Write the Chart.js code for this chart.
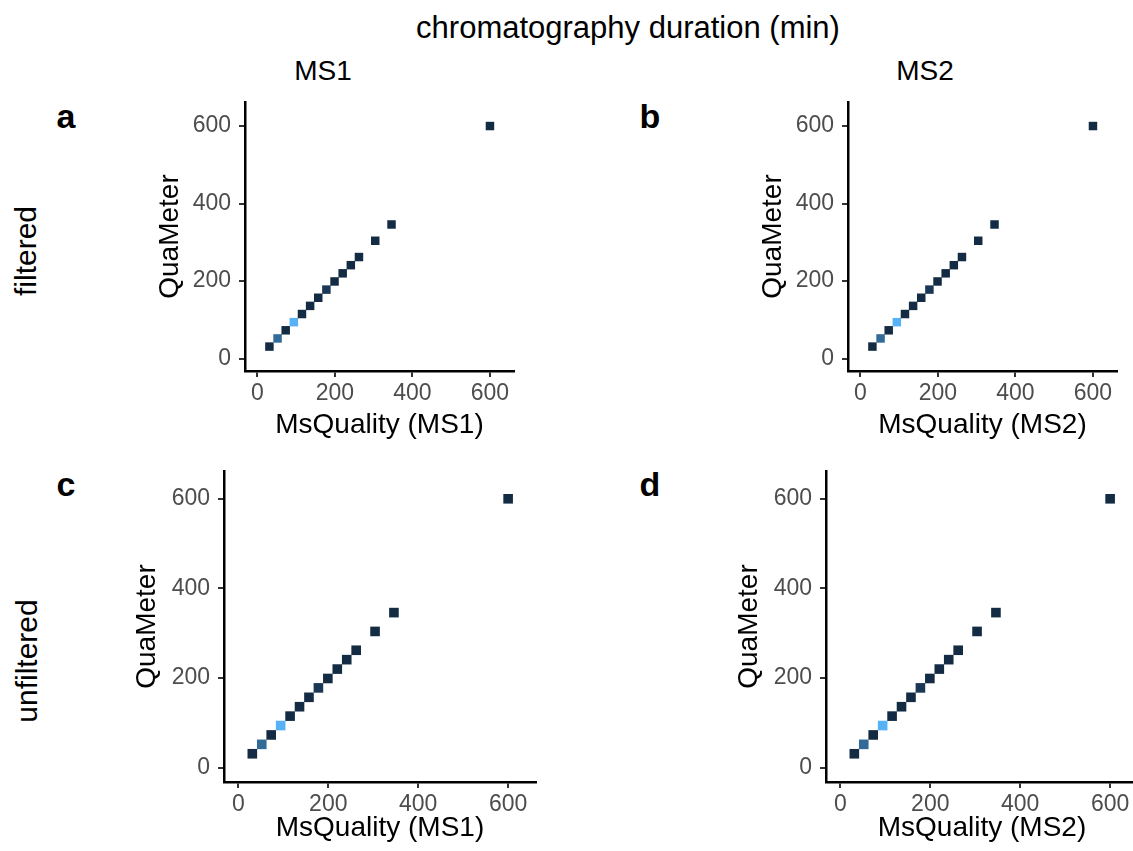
<!DOCTYPE html>
<html>
<head>
<meta charset="utf-8">
<script src="https://cdn.jsdelivr.net/npm/chart.js@4/dist/chart.umd.min.js"></script>
<style>
html, body { margin: 0; padding: 0; background: #fff; overflow: hidden; }
#page { position: relative; width: 1133px; height: 851px; font-family: "Liberation Sans", Arial, sans-serif; }
.txt { position: absolute; white-space: nowrap; color: #000; transform: translate(-50%, -50%); font-size: 28px; }
.rot { transform: translate(-50%, -50%) rotate(-90deg); font-size: 30px; }
.tag { font-weight: bold; font-size: 34px; }
canvas { position: absolute; }
</style>
</head>
<body>
<div id="page">
	<div class="txt" style="left:628px;top:28px;font-size:31px">chromatography duration (min)</div>
	<div class="txt" style="left:323px;top:71px">MS1</div>
	<div class="txt" style="left:925px;top:71px">MS2</div>
	<div class="txt rot" style="left:26px;top:251px">filtered</div>
	<div class="txt rot" style="left:27px;top:661px">unfiltered</div>
	<div class="txt tag" style="left:66px;top:116px">a</div>
	<div class="txt tag" style="left:650px;top:116px">b</div>
	<div class="txt tag" style="left:66px;top:484px">c</div>
	<div class="txt tag" style="left:650px;top:484px">d</div>
	<canvas id="pa"></canvas>
	<canvas id="pb"></canvas>
	<canvas id="pc"></canvas>
	<canvas id="pd"></canvas>
</div>
<script>
'use strict';

// chromatography duration (min), same runs in every panel
var msQuality = [31, 52, 73, 94, 115, 136, 157, 178, 199, 220, 241, 262, 304, 346, 600];
var quaMeter = [31, 52, 73, 94, 115, 136, 157, 178, 199, 220, 241, 262, 304, 346, 600];
// colour scale level of each point (0 = dark navy, 1 = light blue)
var fillLevel = [0, 0.47, 0, 1, 0, 0, 0, 0.1, 0, 0, 0, 0, 0, 0, 0];
var tickValues = [0, 200, 400, 600];

function shade(t) {
	var lo = [19, 43, 67], hi = [86, 177, 247];
	return 'rgb(' + lo.map(function (v, i) { return Math.round(v + (hi[i] - v) * t); }).join(',') + ')';
}

var panels = [
	{ id: 'pa', L: 245, T: 102, R: 514, B: 371, yw: 92, xh: 71, xTitle: 'MsQuality (MS1)', r: 6 },
	{ id: 'pb', L: 848, T: 102, R: 1117, B: 371, yw: 92, xh: 71, xTitle: 'MsQuality (MS2)', r: 6 },
	{ id: 'pc', L: 224, T: 471, R: 536, B: 782, yw: 94, xh: 63, xTitle: 'MsQuality (MS1)', r: 6.8 },
	{ id: 'pd', L: 826, T: 471, R: 1138, B: 782, yw: 94, xh: 63, xTitle: 'MsQuality (MS2)', r: 6.8 }
];
var PT = 8, PR = 20;

function axis(title, fit) {
	return {
		type: 'linear',
		min: -32,
		max: 662,
		afterBuildTicks: function (s) { s.ticks = tickValues.map(function (v) { return { value: v }; }); },
		afterFit: function (s) {
			fit(s);
			s.paddingTop = 0; s.paddingBottom = 0; s.paddingLeft = 0; s.paddingRight = 0;
		},
		grid: { drawOnChartArea: false, tickLength: 6, color: '#333333', lineWidth: 2 },
		border: { display: true, color: '#000', width: 2.5 },
		ticks: { color: '#4D4D4D', padding: 8, font: { family: 'Liberation Sans', size: 23 } },
		title: { display: true, text: title, color: '#000', padding: 0, font: { family: 'Liberation Sans', size: 28 } }
	};
}

panels.forEach(function (p) {
	var cv = document.getElementById(p.id);
	var w = p.R - p.L + p.yw + PR, h = p.B - p.T + PT + p.xh;
	cv.width = w; cv.height = h;
	cv.style.left = (p.L - p.yw) + 'px';
	cv.style.top = (p.T - PT) + 'px';
	var xAxis = axis(p.xTitle, function (s) { s.height = p.xh; });
	xAxis.ticks.padding = 3;
	new Chart(cv, {
		type: 'scatter',
		data: {
			datasets: [{
				data: msQuality.map(function (v, i) { return { x: v, y: quaMeter[i] }; }),
				pointStyle: 'rect',
				pointRadius: p.r,
				pointBorderWidth: 0,
				pointBackgroundColor: fillLevel.map(shade),
				pointBorderColor: fillLevel.map(shade)
			}]
		},
		options: {
			responsive: false,
			animation: false,
			devicePixelRatio: 1,
			layout: { padding: { top: PT, right: PR, left: 0, bottom: 0 } },
			plugins: { legend: { display: false }, tooltip: { enabled: false } },
			scales: {
				x: xAxis,
				y: axis('QuaMeter', function (s) { s.width = p.yw; })
			}
		}
	});
});
</script>
</body>
</html>
